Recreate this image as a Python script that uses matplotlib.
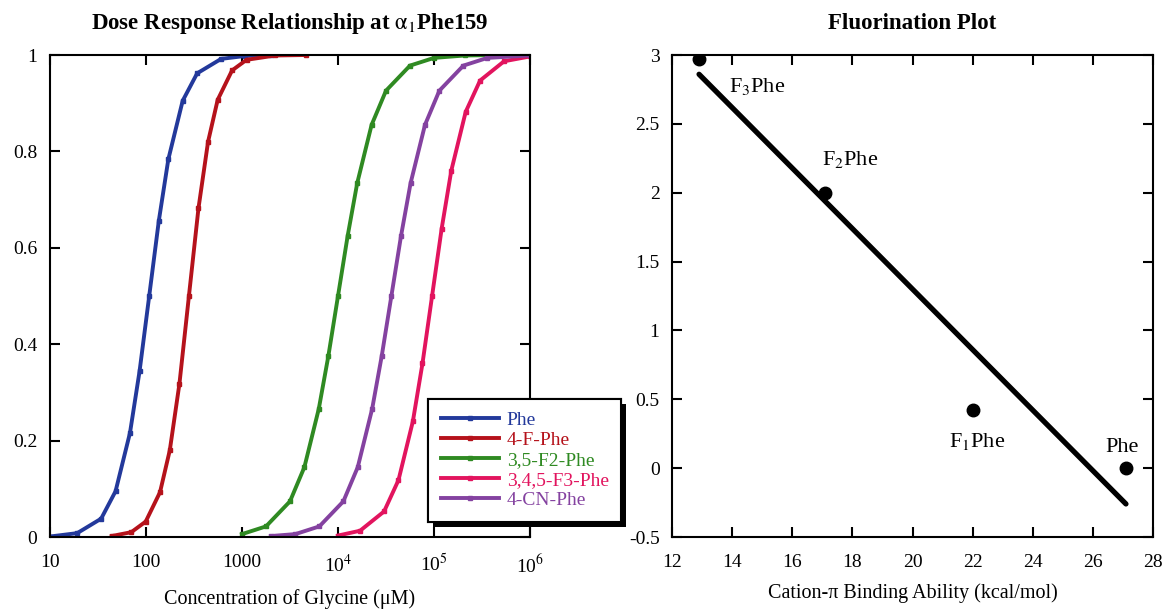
import matplotlib
matplotlib.use("Agg")
import matplotlib.pyplot as plt
import matplotlib.patheffects as pe
from matplotlib.ticker import FixedLocator, FixedFormatter

plt.rcParams["font.family"] = ["Liberation Serif", "DejaVu Serif"]
plt.rcParams["mathtext.fontset"] = "stix"

# --- dose response data, glycine uM vs normalized current ---
phe_x = [10, 19.2, 34.1, 48.2, 68.1, 85.7, 108, 136, 171, 241, 341, 607, 1079, 2000]
phe_y = [0.001, 0.008, 0.038, 0.095, 0.216, 0.344, 0.5, 0.656, 0.784, 0.905, 0.962, 0.992, 0.998, 1.0]

f1_x = [44, 70.3, 99.3, 140, 177, 223, 280, 352, 443, 558, 788, 1114, 2223, 4600]
f1_y = [0.002, 0.010, 0.032, 0.093, 0.18, 0.318, 0.5, 0.682, 0.82, 0.907, 0.968, 0.990, 0.999, 1.0]

f2_x = [1000, 1778, 3162, 4467, 6310, 7943, 10000, 12589, 15849, 22387, 31623, 56234, 100000, 208930, 460000]
f2_y = [0.006, 0.022, 0.074, 0.145, 0.266, 0.376, 0.5, 0.624, 0.734, 0.855, 0.926, 0.978, 0.994, 0.999, 1.0]

f3_x = [10000, 16982, 30200, 42658, 60256, 75858, 95499, 120226, 151356, 213796, 301995, 537032, 1000000]
f3_y = [0.003, 0.013, 0.053, 0.118, 0.24, 0.36, 0.5, 0.64, 0.76, 0.882, 0.947, 0.987, 0.997]

cn_x = [2000, 3597, 6397, 11376, 16069, 22699, 28576, 35975, 45290, 57016, 80538, 113763, 202300, 359750, 1000000]
cn_y = [0.002, 0.006, 0.022, 0.074, 0.145, 0.266, 0.376, 0.5, 0.624, 0.734, 0.855, 0.926, 0.978, 0.994, 0.999]

series = [
    ("Phe", phe_x, phe_y, "#23399b"),
    ("4-F-Phe", f1_x, f1_y, "#b5121b"),
    ("3,5-F2-Phe", f2_x, f2_y, "#2f8a22"),
    ("3,4,5-F3-Phe", f3_x, f3_y, "#e2145e"),
    ("4-CN-Phe", cn_x, cn_y, "#8442a0"),
]

# --- fluorination plot data ---
binding = [12.9, 17.1, 22.0, 27.1]
log_ratio = [2.97, 2.0, 0.42, 0.0]
point_labels = ["F$_3$Phe", "F$_2$Phe", "F$_1$Phe", "Phe"]
label_pos = [(13.9, 2.73), (17.0, 2.2), (21.2, 0.15), (26.4, 0.12)]
fit_x = [12.9, 27.1]
fit_y = [2.86, -0.26]

fig = plt.figure(figsize=(11.66, 6.12), dpi=100)
ax1 = fig.add_axes([50 / 1166, 1 - 537 / 612, 480 / 1166, 482 / 612])
ax2 = fig.add_axes([672 / 1166, 1 - 537 / 612, 481 / 1166, 482 / 612])

for name, xs, ys, col in series:
    ax1.plot(xs, ys, color=col, lw=2.8, marker="s", ms=2.2, label=name)

ax1.set_xscale("log")
ax1.set_xlim(10, 1e6)
ax1.set_ylim(0, 1)
ax1.xaxis.set_major_locator(FixedLocator([10, 100, 1000, 1e4, 1e5, 1e6]))
ax1.xaxis.set_major_formatter(FixedFormatter(["10", "100", "1000", "10$^4$", "10$^5$", "10$^6$"]))
ax1.xaxis.set_minor_locator(FixedLocator([]))
ax1.set_yticks([0, 0.2, 0.4, 0.6, 0.8, 1])
ax1.set_yticklabels(["0", "0.2", "0.4", "0.6", "0.8", "1"])
ax1.set_xlabel("Concentration of Glycine (\u03bcM)", fontsize=14.5, labelpad=9)
ax1.set_title("Dose Response Relationship at $\\mathrm{\\alpha}_1$Phe159", fontsize=16.5,
              fontweight="bold", pad=19)

leg = ax1.legend(loc="upper left", bbox_to_anchor=(428 / 1166, 1 - 399 / 612),
                 bbox_transform=fig.transFigure, frameon=True, fancybox=False,
                 edgecolor="black", framealpha=1, fontsize=14, handlelength=3.0,
                 borderpad=0.65, labelspacing=0.12, handletextpad=0.4, borderaxespad=0)
leg.get_frame().set_linewidth(1.5)
leg.get_frame().set_path_effects([pe.withSimplePatchShadow(offset=(3.5, -3.5),
                                                           shadow_rgbFace="black", alpha=1),
                                  pe.Normal()])
for txt, (_, _, _, col) in zip(leg.get_texts(), series):
    txt.set_color(col)
leg.set_zorder(10)

ax2.plot(fit_x, fit_y, color="black", lw=3.8, solid_capstyle="round")
ax2.plot(binding, log_ratio, "o", color="black", ms=9)
for lab, (lx, ly) in zip(point_labels, label_pos):
    ax2.text(lx, ly, lab, fontsize=16)
ax2.set_xlim(12, 28)
ax2.set_ylim(-0.5, 3)
ax2.set_xticks(range(12, 29, 2))
ax2.set_yticks([-0.5, 0, 0.5, 1, 1.5, 2, 2.5, 3])
ax2.set_yticklabels(["-0.5", "0", "0.5", "1", "1.5", "2", "2.5", "3"])
ax2.set_xlabel("Cation-\u03c0 Binding Ability (kcal/mol)", fontsize=14.5, labelpad=9)
ax2.set_title("Fluorination Plot", fontsize=16.5, fontweight="bold", pad=19)

for ax in (ax1, ax2):
    for s in ax.spines.values():
        s.set_linewidth(1.5)
    ax.tick_params(which="both", direction="in", top=True, right=True,
                   length=7, width=1.5, labelsize=14)
    ax.tick_params(axis="x", pad=12)
    ax.tick_params(axis="y", pad=9)

fig.savefig("out.png", dpi=100)
